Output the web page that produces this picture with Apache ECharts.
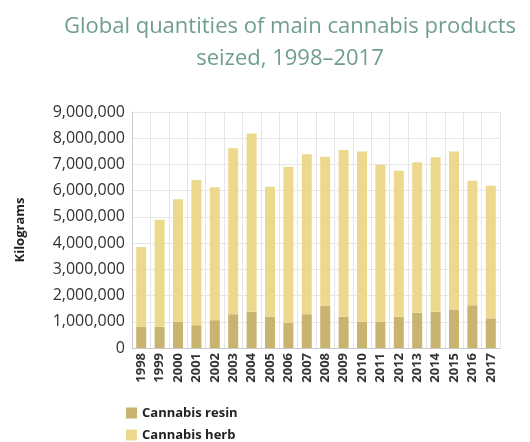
<!DOCTYPE html>
<html lang="en">

<head>
  <script src="https://cdn.jsdelivr.net/npm/echarts@6/dist/echarts.min.js"></script>
</head>

<body style="margin:0">
  <div id="cannabisChart" style="width: 530px;height:442px;"></div>

  <script type="text/javascript">

    var years = ['1998', '1999', '2000', '2001', '2002', '2003', '2004', '2005', '2006', '2007',
                 '2008', '2009', '2010', '2011', '2012', '2013', '2014', '2015', '2016', '2017'];
    var resin = [810000, 810000, 1000000, 870000, 1060000, 1290000, 1380000, 1190000, 960000, 1290000,
                 1600000, 1190000, 1000000, 1000000, 1190000, 1340000, 1380000, 1470000, 1630000, 1130000];
    var herb = [3040000, 4080000, 4670000, 5540000, 5070000, 6330000, 6800000, 4960000, 5950000, 6100000,
                5690000, 6360000, 6490000, 5990000, 5570000, 5740000, 5890000, 6020000, 4750000, 5060000];
    var yTicks = [0, 9000000, 1000000];

    const chart = echarts.init(document.getElementById("cannabisChart"));

    var legendText = {
        fontFamily: 'Open Sans',
        fontWeight: 'bold',
        fontSize: 13,
        color: '#222'
    };

    var option = {
        animation: false,
        title: {
            text: 'Global quantities of main cannabis products\nseized, 1998\u20132017',
            left: 285,
            textAlign: 'center',
            top: 6,
            textStyle: {
                fontFamily: 'Open Sans',
                fontWeight: 'normal',
                fontSize: 22,
                lineHeight: 32,
                color: '#6f9d8f'
            }
        },
        legend: [
            {
                left: 126,
                top: 401,
                padding: 0,
                itemWidth: 11,
                itemHeight: 11,
                icon: 'rect',
                textStyle: legendText,
                data: ['Cannabis resin']
            },
            {
                left: 126,
                top: 423,
                padding: 0,
                itemWidth: 11,
                itemHeight: 11,
                icon: 'rect',
                textStyle: legendText,
                data: ['Cannabis herb']
            }
        ],
        grid: {
            left: 125,
            right: 30,
            top: 112,
            bottom: 94
        },
        xAxis: {
            type: 'category',
            data: years,
            axisTick: { show: false },
            axisLine: { lineStyle: { color: '#ccc' } },
            splitLine: { show: true, lineStyle: { color: '#e6e6e6' } },
            axisLabel: {
                rotate: 90,
                interval: 0,
                margin: 5,
                fontFamily: 'Open Sans',
                fontWeight: 'bold',
                fontSize: 13,
                color: '#333'
            }
        },
        yAxis: {
            type: 'value',
            min: yTicks[0],
            max: yTicks[1],
            interval: yTicks[2],
            name: 'Kilograms',
            nameLocation: 'middle',
            nameRotate: 90,
            nameGap: 100,
            nameTextStyle: {
                fontFamily: 'Open Sans',
                fontWeight: 'bold',
                fontSize: 13,
                color: '#222'
            },
            axisLine: { show: true, lineStyle: { color: '#ccc' } },
            splitLine: { lineStyle: { color: '#e6e6e6' } },
            axisLabel: {
                margin: 7,
                fontFamily: 'Open Sans',
                fontSize: 16,
                color: '#333',
                formatter: function (v) { return v.toLocaleString('en-US'); }
            }
        },
        series: [
            {
                name: 'Cannabis resin',
                type: 'bar',
                stack: 'total',
                barWidth: 10,
                itemStyle: { color: '#c8b36f' },
                data: resin
            },
            {
                name: 'Cannabis herb',
                type: 'bar',
                stack: 'total',
                barWidth: 10,
                itemStyle: { color: '#ecd98e' },
                data: herb
            }
        ]
    };

    chart.setOption(option);
  </script>
</body>

</html>
